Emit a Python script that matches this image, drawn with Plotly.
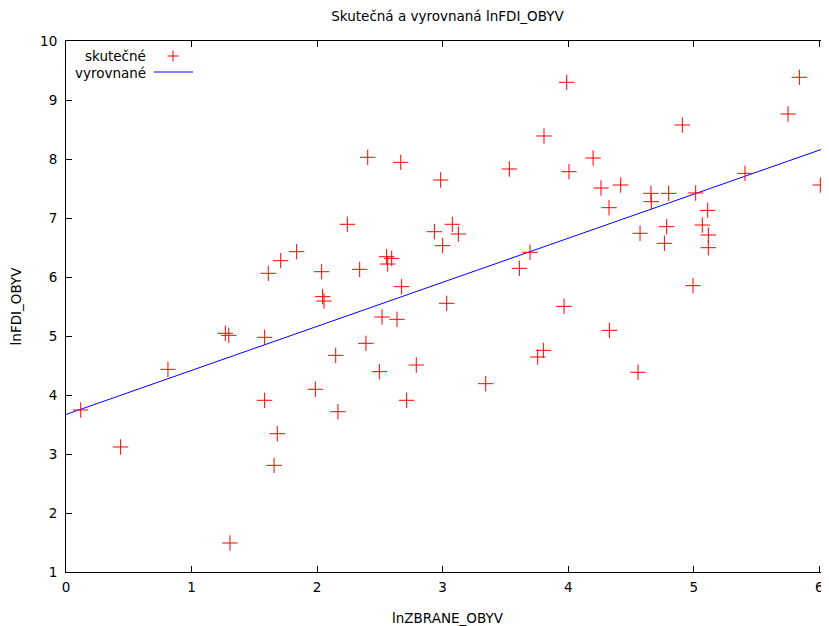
import plotly.graph_objects as go

# lnZBRANE_OBYV (x) and lnFDI_OBYV (y)
x_skutecne = [0.117, 0.435, 0.812, 1.269, 1.296, 1.306, 1.582, 1.582, 1.611, 1.657,
              1.683, 1.710, 1.837, 1.986, 2.036, 2.044, 2.055, 2.148, 2.166, 2.241,
              2.339, 2.389, 2.403, 2.496, 2.517, 2.554, 2.562, 2.594, 2.636, 2.666,
              2.673, 2.713, 2.790, 2.934, 2.984, 3.000, 3.032, 3.077, 3.125, 3.343,
              3.531, 3.611, 3.696, 3.757, 3.802, 3.807, 3.967, 3.988, 4.006, 4.198,
              4.261, 4.325, 4.328, 4.418, 4.556, 4.572, 4.659, 4.662, 4.766, 4.784,
              4.800, 4.909, 4.994, 5.015, 5.068, 5.111, 5.116, 5.116, 5.408, 5.751,
              5.841, 6.008]
y_skutecne = [3.746, 3.119, 4.435, 5.046, 5.011, 1.492, 4.978, 3.910, 6.062, 2.808,
              3.344, 6.277, 6.429, 4.097, 6.090, 5.667, 5.593, 4.672, 3.717, 6.893,
              6.130, 4.876, 8.029, 4.395, 5.322, 6.344, 6.220, 6.316, 5.283, 7.944,
              5.836, 3.910, 4.508, 6.768, 7.644, 6.531, 5.554, 6.893, 6.729, 4.192,
              7.830, 6.147, 6.419, 4.644, 4.757, 8.390, 5.503, 9.300, 7.785, 8.017,
              7.508, 7.175, 5.096, 7.559, 4.385, 6.741, 7.418, 7.277, 6.571, 6.853,
              7.418, 8.576, 5.853, 7.424, 6.881, 7.130, 6.712, 6.497, 7.757, 8.763,
              9.385, 7.559]

# fitted line (vyrovnané), endpoints
x_vyrovnane = [0.0, 6.08]
y_vyrovnane = [3.67, 8.21]

x_ticks = [0, 1, 2, 3, 4, 5, 6]
y_ticks = [1, 2, 3, 4, 5, 6, 7, 8, 9, 10]

FONT = "DejaVu Sans"
FS = 13.5

OFF = 8  # page body margin of the browser
W, H = 829 - OFF, 626 - OFF
L, R, T, B = 66 - OFF, 829 - OFF, 41 - OFF, 572 - OFF
PW, PH = R - L, B - T


def px(xr):
    return (xr - OFF - L) / PW


def py(yr):
    return (B - (yr - OFF)) / PH


fig = go.Figure()
fig.add_trace(go.Scatter(
    x=x_vyrovnane, y=y_vyrovnane, mode="lines", name="vyrovnané",
    line=dict(color="#0000ff", width=1), showlegend=False, hoverinfo="skip"))
fig.add_trace(go.Scatter(
    x=x_skutecne, y=y_skutecne, mode="markers", name="skutečné",
    marker=dict(symbol="cross-thin", size=11, color="#ff0000",
                line=dict(color="#ff0000", width=1)),
    showlegend=False))

# gnuplot-style legend: text on the left, sample on the right
fig.add_annotation(xref="paper", yref="paper", x=px(148), y=py(56),
                   text="skutečné", showarrow=False, xanchor="right", yanchor="middle",
                   font=dict(family=FONT, size=FS, color="#000000"))
fig.add_annotation(xref="paper", yref="paper", x=px(148), y=py(73),
                   text="vyrovnané", showarrow=False, xanchor="right", yanchor="middle",
                   font=dict(family=FONT, size=FS, color="#000000"))
fig.add_shape(type="line", xref="paper", yref="paper",
              x0=px(167.5), x1=px(178.5), y0=py(56), y1=py(56),
              line=dict(color="#ff0000", width=1))
fig.add_shape(type="line", xref="paper", yref="paper",
              x0=px(173), x1=px(173), y0=py(50.5), y1=py(61.5),
              line=dict(color="#ff0000", width=1))
fig.add_shape(type="line", xref="paper", yref="paper",
              x0=px(154), x1=px(193), y0=py(72), y1=py(72),
              line=dict(color="#0000ff", width=1))

axis_common = dict(showgrid=False, zeroline=False, showline=True, linecolor="#000000",
                   linewidth=1, ticks="inside", ticklen=6, tickcolor="#000000",
                   mirror="ticks", automargin=False,
                   tickfont=dict(family=FONT, size=FS, color="#000000"))

fig.update_layout(
    width=W, height=H,
    margin=dict(l=L, r=W - R, t=T, b=H - B, autoexpand=False),
    paper_bgcolor="#ffffff", plot_bgcolor="#ffffff",
    title=dict(text="Skutečná a vyrovnaná lnFDI_OBYV", x=(447.5 - OFF) / W, xanchor="center",
               y=1 - (16 - OFF) / H, yanchor="middle",
               font=dict(family=FONT, size=FS, color="#000000")),
    xaxis=dict(range=[0, 6.077], tickvals=x_ticks, ticktext=[str(v) for v in x_ticks],
               ticklabelstandoff=3,
               title=dict(text="lnZBRANE_OBYV", font=dict(family=FONT, size=FS, color="#000000"),
                          standoff=19),
               **axis_common),
    yaxis=dict(range=[1, 10], tickvals=y_ticks, ticktext=[str(v) for v in y_ticks],
               ticklabelstandoff=5,
               title=dict(text="lnFDI_OBYV", font=dict(family=FONT, size=FS, color="#000000"),
                          standoff=16),
               **axis_common),
)

fig.write_html("out.html")
